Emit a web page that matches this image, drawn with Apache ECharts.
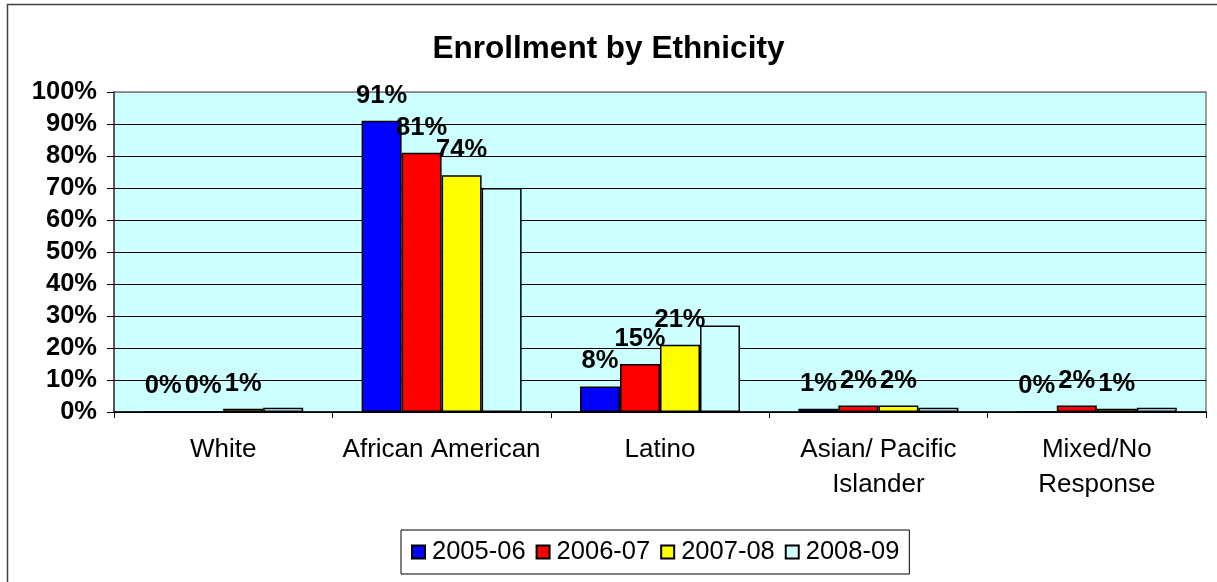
<!DOCTYPE html>
<html>
<head>
<meta charset="utf-8">
<script src="https://cdn.jsdelivr.net/npm/echarts@6/dist/echarts.min.js"></script>
<style>
  html, body { margin: 0; padding: 0; background: #fff; }
  #chart { width: 1217px; height: 582px; }
</style>
</head>
<body>
<div id="chart"></div>
<script>
// Enrollment share (%) per ethnicity, one array per school year
const categories = ['White', 'African American', 'Latino', 'Asian/ Pacific\nIslander', 'Mixed/No\nResponse'];
const years = ['2005-06', '2006-07', '2007-08', '2008-09'];
const y2005 = [0, 91, 8, 1, 0];
const y2006 = [0, 81, 15, 2, 2];
const y2007 = [1, 74, 21, 2, 1];
const y2008 = [1.3, 70, 27, 1.3, 1.3];
const yTicks = [0, 10, 20, 30, 40, 50, 60, 70, 80, 90, 100];

const colors = ['#0000FF', '#FF0000', '#FFFF00', '#CCFFFF'];
const seriesValues = [y2005, y2006, y2007, y2008];
const labelled = [true, true, true, false];

const font = 'Liberation Sans, Arial, sans-serif';

const chart = echarts.init(document.getElementById('chart'), null, { renderer: 'canvas' });

// Gridlines are black except the top one, which is part of the grey plot frame
const splitColors = yTicks.map((t, i) => i === yTicks.length - 1 ? '#808080' : '#000000');

chart.setOption({
  animation: false,
  backgroundColor: '#ffffff',
  textStyle: { fontFamily: font },
  graphic: [{
    type: 'rect',
    shape: { x: 7.5, y: 4.5, width: 1400, height: 800 },
    style: { fill: 'none', stroke: '#404040', lineWidth: 1.5 },
    silent: true,
    z: 100
  }],
  title: {
    text: 'Enrollment by Ethnicity',
    left: 'center',
    top: 28,
    textStyle: { fontFamily: font, fontSize: 31.5, fontWeight: 'bold', color: '#000' }
  },
  legend: {
    data: years,
    left: 401,
    top: 530,
    padding: [9, 10, 9, 10],
    itemGap: 10,
    itemWidth: 13,
    itemHeight: 13,
    icon: 'rect',
    borderColor: '#000',
    borderWidth: 1,
    textStyle: { fontFamily: font, fontSize: 25.5, color: '#000', padding: [0, 0, 0, 2] }
  },
  grid: {
    left: 114,
    right: 11,
    top: 92,
    bottom: 170,
    show: true,
    backgroundColor: '#CCFFFF',
    borderColor: '#808080',
    borderWidth: 1.5
  },
  xAxis: {
    type: 'category',
    data: categories,
    axisLine: { lineStyle: { color: '#000', width: 1.5 } },
    axisTick: { show: true, length: 6, alignWithLabel: false, lineStyle: { color: '#000' } },
    axisLabel: {
      margin: 20,
      fontFamily: font,
      fontSize: 26,
      lineHeight: 35,
      color: '#000',
      interval: 0
    }
  },
  yAxis: {
    type: 'value',
    min: 0,
    max: 100,
    interval: 10,
    axisLine: { show: true, lineStyle: { color: '#404040', width: 1.5 } },
    axisTick: { show: true, length: 7, lineStyle: { color: '#000' } },
    axisLabel: {
      margin: 17,
      fontFamily: font,
      fontSize: 25.5,
      fontWeight: 'bold',
      color: '#000',
      formatter: '{value}%'
    },
    splitLine: { show: true, lineStyle: { color: splitColors, width: 1 } }
  },
  series: years.map((name, i) => ({
    name: name,
    type: 'bar',
    data: seriesValues[i],
    barWidth: 40,
    barGap: '0%',
    itemStyle: { color: colors[i], borderColor: '#000', borderWidth: 1.5 },
    label: {
      show: labelled[i],
      position: 'top',
      distance: 12,
      fontFamily: font,
      fontSize: 25.5,
      fontWeight: 'bold',
      color: '#000',
      formatter: '{c}%'
    }
  }))
});
</script>
</body>
</html>
